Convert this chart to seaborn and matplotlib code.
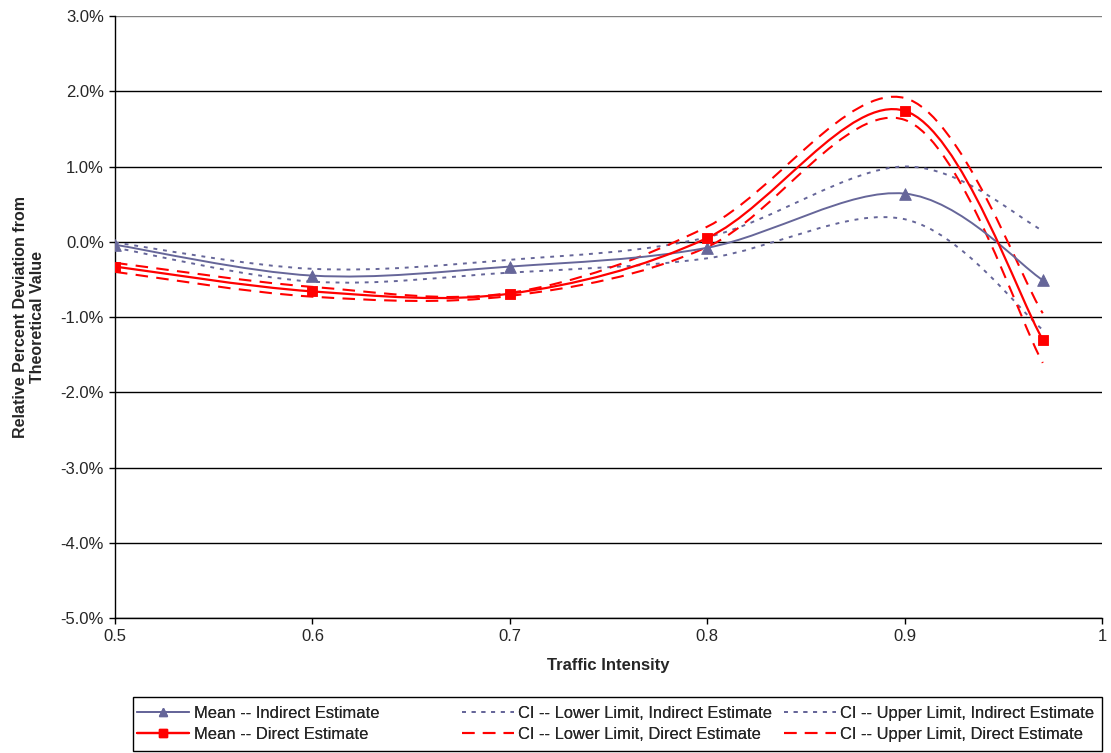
import numpy as np
import pandas as pd
import matplotlib
matplotlib.use("Agg")
import matplotlib.pyplot as plt
import seaborn as sns
from matplotlib.path import Path
from matplotlib.patches import PathPatch, Rectangle
from matplotlib.lines import Line2D
from matplotlib.ticker import PercentFormatter

# data (percent deviation)
intensity = [0.5, 0.6, 0.7, 0.8, 0.9, 0.97]
mean_indirect = [-0.04, -0.45, -0.33, -0.08, 0.64, -0.51]
lower_indirect = [-0.08, -0.53, -0.41, -0.22, 0.30, -1.17]
upper_indirect = [-0.01, -0.36, -0.24, 0.06, 1.00, 0.15]
mean_direct = [-0.33, -0.66, -0.69, 0.05, 1.74, -1.30]
lower_direct = [-0.40, -0.73, -0.72, -0.07, 1.62, -1.61]
upper_direct = [-0.28, -0.60, -0.68, 0.20, 1.91, -0.95]

labels = ["Mean -- Indirect Estimate", "Mean -- Direct Estimate",
          "CI -- Lower Limit, Indirect Estimate", "CI -- Lower Limit, Direct Estimate",
          "CI -- Upper Limit, Indirect Estimate", "CI -- Upper Limit, Direct Estimate"]

c_ind = "#666699"
c_dir = "#ff0000"
dot = (0, (2, 3))
dash = (0, (6, 4))

sns.set_style("white")
plt.rcParams['font.family'] = ['Liberation Sans', 'DejaVu Sans']
plt.rcParams['axes.unicode_minus'] = False

fig = plt.figure(figsize=(11.11, 7.53), dpi=100)
ax = fig.add_axes([115/1111, 1-618/753, (1102-115)/1111, (618-16)/753])


def smooth_path(xs, ys):
    # excel-style smoothed line: cubic bezier segments through the points
    xs = np.asarray(xs, float)
    ys = np.asarray(ys, float)
    n = len(xs)
    verts = [(xs[0], ys[0])]
    codes = [Path.MOVETO]
    for i in range(n - 1):
        i0 = max(i - 1, 0)
        i3 = min(i + 2, n - 1)
        c1 = (xs[i] + (xs[i+1] - xs[i0]) / 6, ys[i] + (ys[i+1] - ys[i0]) / 6)
        c2 = (xs[i+1] - (xs[i3] - xs[i]) / 6, ys[i+1] - (ys[i3] - ys[i]) / 6)
        verts += [c1, c2, (xs[i+1], ys[i+1])]
        codes += [Path.CURVE4] * 3
    return Path(verts, codes)


series = [
    (upper_indirect, c_ind, dot, 1.4),
    (lower_indirect, c_ind, dot, 1.4),
    (upper_direct, c_dir, dash, 1.5),
    (lower_direct, c_dir, dash, 1.5),
    (mean_indirect, c_ind, '-', 1.4),
    (mean_direct, c_dir, '-', 1.6),
]
for ys, col, ls, lw in series:
    ax.add_patch(PathPatch(smooth_path(intensity, ys), facecolor='none',
                           edgecolor=col, linestyle=ls, linewidth=lw))

df = pd.DataFrame({"x": intensity, "ind": mean_indirect, "dir": mean_direct})
sns.scatterplot(data=df, x="x", y="ind", marker="^", s=70, color=c_ind,
                edgecolor=c_ind, ax=ax, zorder=5)
sns.scatterplot(data=df, x="x", y="dir", marker="s", s=60, color=c_dir,
                edgecolor=c_dir, ax=ax, zorder=5)

ax.set_xlim(0.5, 1.0)
ax.set_ylim(-5, 3)
ax.set_xticks(np.arange(0.5, 1.01, 0.1))
ax.set_xticklabels(["0.5", "0.6", "0.7", "0.8", "0.9", "1"])
ax.set_yticks(np.arange(-5, 3.01, 1))
ax.yaxis.set_major_formatter(PercentFormatter(decimals=1))
ax.grid(axis='y', color='black', linewidth=1)
ax.grid(axis='x', visible=False)
ax.get_ygridlines()[-1].set_color('#808080')
for s in ['top', 'right']:
    ax.spines[s].set_visible(False)
for s in ['left', 'bottom']:
    ax.spines[s].set_color('black')
    ax.spines[s].set_linewidth(1)
ax.tick_params(axis='both', direction='out', length=4, width=1, color='black',
               labelsize=12, bottom=True, left=True, pad=4)
ax.set_xlabel("Traffic Intensity", fontsize=12, fontweight='bold', labelpad=10)
ax.set_ylabel("Relative Percent Deviation from\nTheoretical Value", fontsize=11.5,
              fontweight='bold', labelpad=11)

handles = [
    Line2D([], [], color=c_ind, lw=1.4, marker='^', markersize=6),
    Line2D([], [], color=c_dir, lw=1.6, marker='s', markersize=6),
    Line2D([], [], color=c_ind, lw=1.4, linestyle=dot),
    Line2D([], [], color=c_dir, lw=1.5, linestyle=dash),
    Line2D([], [], color=c_ind, lw=1.4, linestyle=dot),
    Line2D([], [], color=c_dir, lw=1.5, linestyle=dash),
]

# legend box with three equally spaced columns
fig.add_artist(Rectangle((133/1111, 2/753), (1102-133)/1111, 54/753,
                         transform=fig.transFigure, facecolor='white',
                         edgecolor='black', linewidth=1))
col_x = [134, 459, 781]
for k, x0 in enumerate(col_x):
    lg = fig.legend(handles[2*k:2*k+2], labels[2*k:2*k+2], ncol=1,
                    loc='center left', bbox_to_anchor=(x0/1111, 29/753),
                    fontsize=11.9, frameon=False, handlelength=3.1,
                    handletextpad=0.3, borderaxespad=0, borderpad=0.2,
                    labelspacing=0.35)
    fig.add_artist(lg)

fig.savefig("out.png", dpi=100)
